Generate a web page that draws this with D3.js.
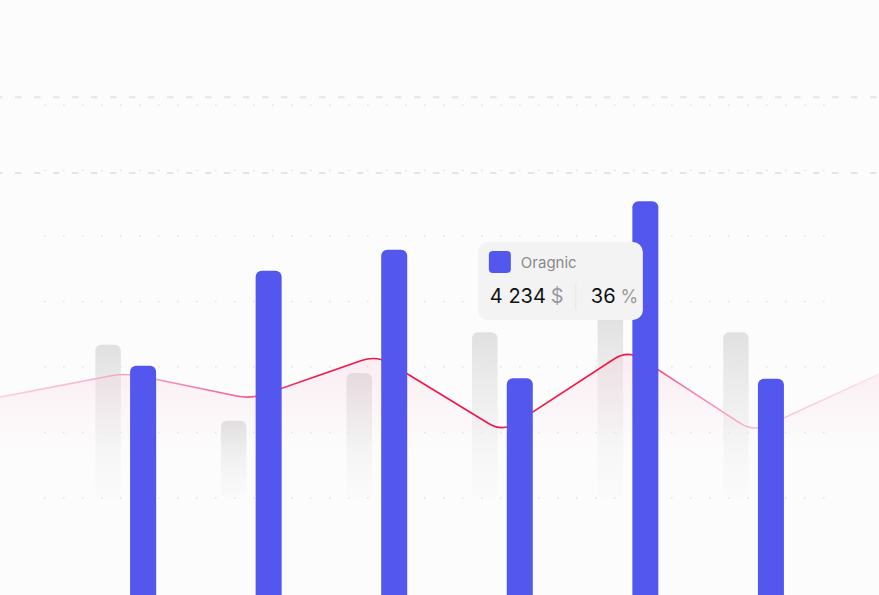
<!DOCTYPE html>
<html>
<head>
<meta charset="utf-8">
<script src="https://cdn.jsdelivr.net/npm/d3@7"></script>
<style>
  html, body { margin: 0; padding: 0; background: #fcfcfd; }
  svg { display: block; font-family: Inter, "Noto Sans", sans-serif; }
</style>
</head>
<body>
<svg id="chart" width="879" height="595"></svg>
<script>
// slots along the x axis, line uses all of them, bars only the inner six
var slots = ["s0", "Jan", "Feb", "Mar", "Apr", "May", "Jun", "s7"];
var barCats = ["Jan", "Feb", "Mar", "Apr", "May", "Jun"];
var prevValues = [23.4, 11.8, 19.1, 25.3, 28.4, 25.3];   // gray bars
var curValues = [20.2, 34.7, 37.9, 18.3, 45.3, 18.2];    // blue bars
var lineValues = [15.4, 19.1, 15.1, 21.8, 10.1, 22.6, 10.1, 18.9];
var gridValues = [0, 10, 20, 30, 40, 50, 60];
var dashValues = [61.2, 49.6];
var tipName = "Oragnic";
var tipAmount = "4 234";
var tipPercent = "36";
var tipIndex = 4;

var W = 879, H = 595;
var svg = d3.select("#chart");

var x = d3.scalePoint().domain(slots).range([0, W]);
var y = d3.scaleLinear().domain([0, 60]).range([498, 105]);

var defs = svg.append("defs");

var gGray = defs.append("linearGradient").attr("id", "grayGrad")
    .attr("x1", 0).attr("y1", 0).attr("x2", 0).attr("y2", 1);
gGray.append("stop").attr("offset", "0%").attr("stop-color", "#e0e0e0");
gGray.append("stop").attr("offset", "100%").attr("stop-color", "#f4f4f4").attr("stop-opacity", 0.2);

var gLine = defs.append("linearGradient").attr("id", "lineGrad")
    .attr("gradientUnits", "userSpaceOnUse")
    .attr("x1", 0).attr("y1", 0).attr("x2", W).attr("y2", 0);
[[0, "#fbd3e0"], [0.15, "#f7a3c0"], [0.30, "#f4527e"], [0.36, "#f0164a"],
 [0.71, "#f0164a"], [0.78, "#f57fa8"], [0.87, "#f8c2d5"], [1, "#fbe3ec"]]
  .forEach(function (s) {
    gLine.append("stop").attr("offset", s[0]).attr("stop-color", s[1]);
  });

var gArea = defs.append("linearGradient").attr("id", "areaGrad")
    .attr("gradientUnits", "userSpaceOnUse")
    .attr("x1", 0).attr("y1", 350).attr("x2", 0).attr("y2", 450);
gArea.append("stop").attr("offset", "0%").attr("stop-color", "#f7c9d9").attr("stop-opacity", 0.32);
gArea.append("stop").attr("offset", "100%").attr("stop-color", "#f7c9d9").attr("stop-opacity", 0);

// dashed guide lines
svg.selectAll(".dash").data(dashValues).enter().append("line")
    .attr("x1", -4).attr("x2", W)
    .attr("y1", d => y(d)).attr("y2", d => y(d))
    .attr("stroke", "#e5e5e5").attr("stroke-width", 2)
    .attr("stroke-dasharray", "6.5 12.5");

// dotted grid rows
svg.selectAll(".grid").data(gridValues).enter().append("line")
    .attr("x1", 44).attr("x2", 838)
    .attr("y1", d => y(d)).attr("y2", d => y(d))
    .attr("stroke", "#e2e2e2").attr("stroke-width", 1.5)
    .attr("stroke-dasharray", "1.5 17.5");

// line with rounded joints
var pts = slots.map((s, i) => [x(s), y(lineValues[i])]);
function roundedPath(p, r) {
  var path = d3.path();
  path.moveTo(p[0][0], p[0][1]);
  for (var i = 1; i < p.length - 1; i++) {
    var a = p[i - 1], b = p[i], c = p[i + 1];
    var d1 = Math.hypot(b[0] - a[0], b[1] - a[1]);
    var d2 = Math.hypot(c[0] - b[0], c[1] - b[1]);
    var t1 = Math.min(r, d1 / 2) / d1, t2 = Math.min(r, d2 / 2) / d2;
    path.lineTo(b[0] - (b[0] - a[0]) * t1, b[1] - (b[1] - a[1]) * t1);
    path.quadraticCurveTo(b[0], b[1], b[0] + (c[0] - b[0]) * t2, b[1] + (c[1] - b[1]) * t2);
  }
  path.lineTo(p[p.length - 1][0], p[p.length - 1][1]);
  return path.toString();
}
var linePath = roundedPath(pts, 16);

// previous period bars (gray, fading)
var barW = 25.5, off = 17.5;
svg.selectAll(".prev").data(prevValues).enter().append("rect")
    .attr("x", (d, i) => x(barCats[i]) - off - barW / 2)
    .attr("y", d => y(d))
    .attr("width", barW)
    .attr("height", d => y(0) - y(d))
    .attr("rx", 6)
    .attr("fill", "url(#grayGrad)");

svg.append("path")
    .attr("d", linePath + "L" + W + "," + H + "L0," + H + "Z")
    .attr("fill", "url(#areaGrad)");

svg.append("path")
    .attr("d", linePath)
    .attr("fill", "none")
    .attr("stroke", "url(#lineGrad)")
    .attr("stroke-width", 1.6);

// thin highlight on the first bar
svg.append("line")
    .attr("x1", x(barCats[0]) + off + 13).attr("x2", x(barCats[0]) + off + 13)
    .attr("y1", y(lineValues[1]) + 4).attr("y2", H)
    .attr("stroke", "#d8ee6a").attr("stroke-width", 1);

// current period bars
svg.selectAll(".cur").data(curValues).enter().append("rect")
    .attr("x", (d, i) => x(barCats[i]) + off - 13)
    .attr("y", d => y(d))
    .attr("width", 26)
    .attr("height", d => H - y(d) + 20)
    .attr("rx", 6)
    .attr("fill", "#5457ed");

// tooltip
var tx = x(barCats[tipIndex]) - 150, ty = 242;
var tip = svg.append("g").attr("transform", "translate(" + tx + "," + ty + ")");
tip.append("rect").attr("width", 165).attr("height", 78).attr("rx", 10)
    .attr("fill", "#f3f3f3");
tip.append("rect").attr("x", 11).attr("y", 9).attr("width", 22).attr("height", 22)
    .attr("rx", 4).attr("fill", "#5457ed");
tip.append("text").attr("x", 43).attr("y", 26)
    .attr("font-size", 15).attr("fill", "#8a8a8a").text(tipName);
var t1 = tip.append("text").attr("x", 12).attr("y", 61).attr("font-size", 20);
t1.append("tspan").attr("fill", "#111").text(tipAmount);
t1.append("tspan").attr("fill", "#9a9a9a").attr("dx", 5).text("$");
tip.append("line").attr("x1", 98).attr("x2", 98).attr("y1", 41).attr("y2", 68)
    .attr("stroke", "#e6e6e6").attr("stroke-width", 1);
var t2 = tip.append("text").attr("x", 113).attr("y", 61).attr("font-size", 20);
t2.append("tspan").attr("fill", "#111").text(tipPercent);
t2.append("tspan").attr("fill", "#9a9a9a").attr("dx", 5).attr("font-size", 18).text("%");
</script>
</body>
</html>
